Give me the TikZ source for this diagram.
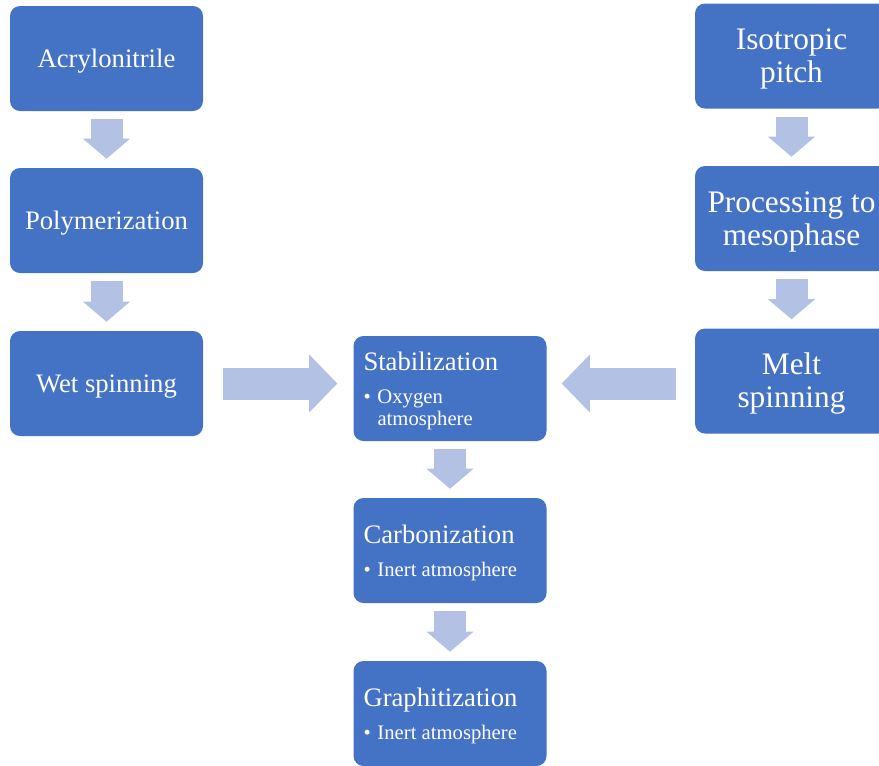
\documentclass[tikz,border=0pt]{standalone}
\usepackage{fontspec}
\setmainfont{Liberation Serif}
\usetikzlibrary{arrows.meta}
\definecolor{boxblue}{RGB}{68,114,196}
\definecolor{arrowblue}{RGB}{178,193,228}
\setlength{\parskip}{0pt}
\setlength{\parindent}{0pt}
\newcommand{\strutup}{\rule{0pt}{18pt}}
\newcommand{\strutbig}{\rule{0pt}{20.5pt}}
\newcommand{\stepnote}[1]{\par\vspace{8.5pt}{\fontsize{15.5}{16.5}\selectfont
  \spaceskip=0pt \xspaceskip=0pt
  \hangindent=10.5pt\hangafter=1\noindent\makebox[10.5pt][l]{\textbullet}#1\par}}
\begin{document}
\begin{tikzpicture}
  [x=0.75pt,y=-0.75pt,every node/.style={rectangle,rounded corners=7.5pt,fill=boxblue,
   text=white,minimum width=144.75pt,minimum height=78.75pt,
   font=\fontsize{20}{24.5}\selectfont,align=center,execute at begin node=\strutup}]
  \tikzstyle{big} = [font=\fontsize{23.5}{24.75}\selectfont]
  \tikzstyle{note} = [align=left,text width=129.75pt,inner xsep=7.5pt]
  \tikzstyle{down} = [arrowblue,line width=24pt,shorten <=6pt,shorten >=6.75pt,
    -{Triangle[length=15pt,width=35.25pt,line width=0pt]}]
  \tikzstyle{side} = [arrowblue,line width=24pt,
    -{Triangle[length=21pt,width=43.5pt,line width=0pt]}]
  \useasboundingbox (0,0) rectangle (879,765);
  \clip (0,0) rectangle (879,765);
  \node (acr)  at (106.5,58.5)  {Acrylonitrile};
  \node (poly) at (106.5,220.5) {Polymerization};
  \node (wet)  at (106.5,383.5) {Wet spinning};
  \node[big] (iso)  at (791.5,56)    {\strutbig Isotropic\\pitch};
  \node[big] (proc) at (791.5,218.5) {\strutbig Processing to\\mesophase};
  \node[big] (melt) at (791.5,381)   {\strutbig Melt\\spinning};
  \node[note] (stab)  at (450,388.5) {Stabilization\stepnote{Oxygen\newline atmosphere}};
  \node[note] (carb)  at (450,550.5) {Carbonization\stepnote{Inert atmosphere}};
  \node[note] (graph) at (450,713.5) {Graphitization\stepnote{Inert atmosphere}};
  \foreach \source /\dest in {acr/poly,poly/wet,iso/proc,proc/melt,stab/carb,carb/graph}
   \draw[down] (\source) -- (\dest);
  \draw[side,shorten <=15pt,shorten >=12pt] (wet.east) -- (wet.east -| stab.west);
  \draw[side,shorten <=14.25pt,shorten >=11.25pt] (melt.west |- wet.east) -- (stab.east |- wet.east);
\end{tikzpicture}
\end{document}
